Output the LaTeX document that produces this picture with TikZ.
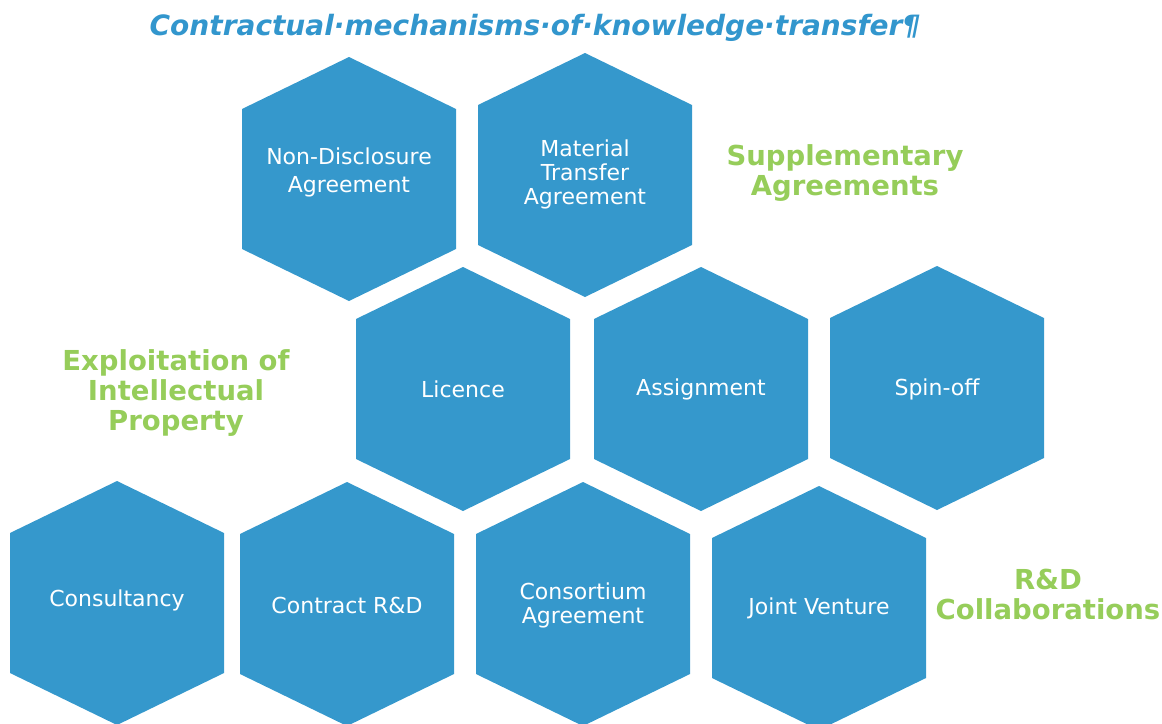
\documentclass[tikz,border=0pt]{standalone}
\usepackage{fontspec}
\setmainfont{DejaVu Sans}
\usepackage{tikz}
\usetikzlibrary{positioning}
\usepackage{xcolor}

\definecolor{cellblue}{RGB}{53,152,204}
\definecolor{titleblue}{RGB}{50,150,205}
\definecolor{groupgreen}{RGB}{150,205,90}

\begin{document}
\begin{tikzpicture}[
    x=1pt, y=-1pt,
    cell/.style={text=white, align=center, font=\fontsize{22}{24}\selectfont},
    group/.style={text=groupgreen, align=center, font=\bfseries\fontsize{27.5}{30}\selectfont},
  ]
  \def\hw{107}  % half width of a cell
  \def\hh{122}  % half height, tip to tip
  \def\co{70}   % height of the corners above/below centre

  \useasboundingbox (0,0) rectangle (1162,723);

  % ========= TITLE =========
  \node[font=\bfseries\itshape\fontsize{28}{32}\selectfont, text=titleblue] (title) at (535,28)
    {Contractual·mechanisms·of·knowledge·transfer¶};

  % ========= CELLS =========
  % centre x / centre y / text y / name / text
  \foreach \cx/\cy/\ty/\name/\txt in {
      349/179/172/nda/{Non-Disclosure\\[4pt]Agreement},
      585/175/174/mta/{Material\\Transfer\\Agreement},
      463/389/389/licence/{Licence},
      701/389/389/assignment/{Assignment},
      937/388/389/spinoff/{Spin-off},
      117/603/600/consultancy/{Consultancy},
      347/604/605/contract/{Contract R\&D},
      583/604/605/consortium/{Consortium\\Agreement},
      819/608/608/jointventure/{Joint Venture}} {
    \fill[cellblue] (\cx,\cy-\hh) -- (\cx+\hw,\cy-\co) -- (\cx+\hw,\cy+\co)
      -- (\cx,\cy+\hh) -- (\cx-\hw,\cy+\co) -- (\cx-\hw,\cy-\co) -- cycle;
    \node[cell] (\name) at (\cx,\ty) {\txt};
  }

  % ========= GROUP LABELS =========
  \node[group] (supplementary) at (845,173) {Supplementary\\Agreements};
  \node[group] (exploitation) at (176,393) {Exploitation of\\Intellectual\\Property};
  \node[group] (collaborations) at (1048,594) {R\&D\\Collaborations};
\end{tikzpicture}
\end{document}
